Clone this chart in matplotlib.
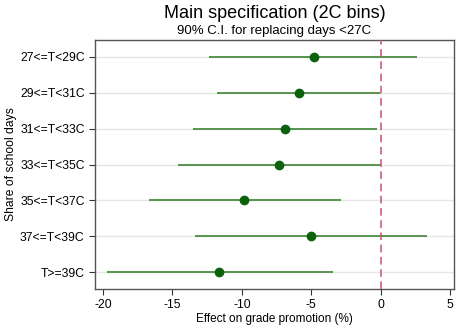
import numpy as np
import matplotlib
matplotlib.use('Agg')
import matplotlib.pyplot as plt

plt.rcParams['font.family'] = ['Liberation Sans', 'DejaVu Sans']

bins = ['27<=T<29C', '29<=T<31C', '31<=T<33C', '33<=T<35C',
        '35<=T<37C', '37<=T<39C', 'T>=39C']
est = [-4.83, -5.88, -6.89, -7.30, -9.82, -5.01, -11.62]
lo = [-12.34, -11.79, -13.5, -14.6, -16.7, -13.4, -19.7]
hi = [2.62, -0.05, -0.26, 0.03, -2.88, 3.34, -3.41]
xticks = [-20, -15, -10, -5, 0, 5]

fig = plt.figure(figsize=(4.63, 3.26), dpi=100)
ax = fig.add_axes([95 / 463, 1 - 289 / 326, 359 / 463, 249 / 326])

y = np.arange(len(bins))
for yy in y:
    ax.axhline(yy, color='#e6e6e6', lw=1.0, zorder=0)

ax.hlines(y, lo, hi, color='#4a8c40', lw=1.3, zorder=2)
ax.plot(est, y, 'o', color='#0c620c', ms=6, zorder=3)
ax.axvline(0, color='#c8507a', lw=1.1, ls=(0, (5, 3)), zorder=4)

ax.set_yticks(y)
ax.set_yticklabels(bins, fontsize=8.7)
ax.set_ylim(6.47, -0.47)
ax.set_xticks(xticks)
ax.set_xticklabels([str(t) for t in xticks], fontsize=8.7)
ax.set_xlim(-20.58, 5.29)

ax.tick_params(axis='both', length=4, width=0.8, color='#333333')
for s in ax.spines.values():
    s.set_color('#555555')
    s.set_linewidth(1.0)

ax.set_ylabel('Share of school days', fontsize=8.7, labelpad=2)
ax.set_xlabel('Effect on grade promotion (%)', fontsize=8.5, labelpad=1)

fig.text(274.5 / 463, 1 - 13 / 326, 'Main specification (2C bins)',
         ha='center', va='center', fontsize=13)
fig.text(274.5 / 463, 1 - 31 / 326, '90% C.I. for replacing days <27C',
         ha='center', va='center', fontsize=9.5)

fig.savefig('out.png', dpi=100)
